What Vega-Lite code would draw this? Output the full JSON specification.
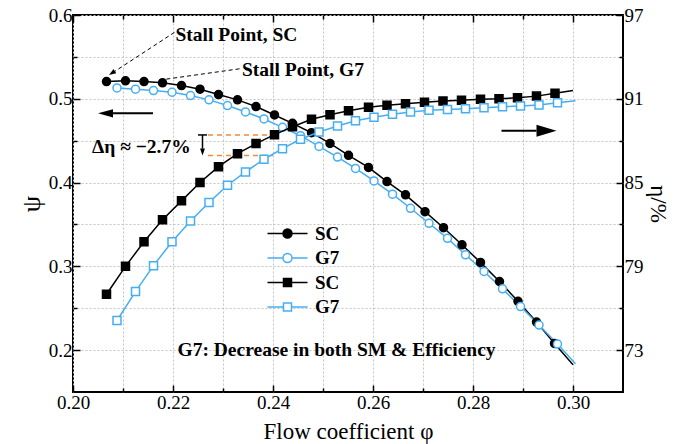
{
  "$schema": "https://vega.github.io/schema/vega-lite/v6.json",
  "width": 550,
  "height": 377,
  "autosize": {"type": "none"},
  "padding": {"left": 73, "top": 15, "right": 68, "bottom": 52},
  "background": "white",
  "config": {
    "font": "Liberation Serif",
    "view": {"stroke": "black", "strokeWidth": 2},
    "axis": {
      "domain": false,
      "labelFlush": false,
      "labelFont": "Liberation Serif",
      "labelFontSize": 19,
      "labelColor": "black",
      "titleFont": "Liberation Serif",
      "titleFontWeight": "normal",
      "titleColor": "black",
      "tickColor": "black",
      "tickWidth": 1.5,
      "gridColor": "#c4c4c4",
      "gridDash": [2, 2],
      "gridWidth": 1
    },
    "text": {"font": "Liberation Serif"}
  },
  "datasets": {
    "curves": [
      {"phi": 0.2067, "y": 0.5206, "series": "SC ψ", "curve": "psi"},
      {"phi": 0.2105, "y": 0.5214, "series": "SC ψ", "curve": "psi"},
      {"phi": 0.2142, "y": 0.5206, "series": "SC ψ", "curve": "psi"},
      {"phi": 0.2179, "y": 0.5190, "series": "SC ψ", "curve": "psi"},
      {"phi": 0.2217, "y": 0.5158, "series": "SC ψ", "curve": "psi"},
      {"phi": 0.2254, "y": 0.5114, "series": "SC ψ", "curve": "psi"},
      {"phi": 0.2291, "y": 0.5050, "series": "SC ψ", "curve": "psi"},
      {"phi": 0.2329, "y": 0.4987, "series": "SC ψ", "curve": "psi"},
      {"phi": 0.2366, "y": 0.4907, "series": "SC ψ", "curve": "psi"},
      {"phi": 0.2403, "y": 0.4807, "series": "SC ψ", "curve": "psi"},
      {"phi": 0.2439, "y": 0.4707, "series": "SC ψ", "curve": "psi"},
      {"phi": 0.2477, "y": 0.4595, "series": "SC ψ", "curve": "psi"},
      {"phi": 0.2514, "y": 0.4467, "series": "SC ψ", "curve": "psi"},
      {"phi": 0.2551, "y": 0.4325, "series": "SC ψ", "curve": "psi"},
      {"phi": 0.2591, "y": 0.4180, "series": "SC ψ", "curve": "psi"},
      {"phi": 0.2628, "y": 0.4012, "series": "SC ψ", "curve": "psi"},
      {"phi": 0.2665, "y": 0.3853, "series": "SC ψ", "curve": "psi"},
      {"phi": 0.2704, "y": 0.3653, "series": "SC ψ", "curve": "psi"},
      {"phi": 0.2741, "y": 0.3461, "series": "SC ψ", "curve": "psi"},
      {"phi": 0.2778, "y": 0.3257, "series": "SC ψ", "curve": "psi"},
      {"phi": 0.2815, "y": 0.3047, "series": "SC ψ", "curve": "psi"},
      {"phi": 0.2853, "y": 0.2819, "series": "SC ψ", "curve": "psi"},
      {"phi": 0.2890, "y": 0.2583, "series": "SC ψ", "curve": "psi"},
      {"phi": 0.2927, "y": 0.2335, "series": "SC ψ", "curve": "psi"},
      {"phi": 0.2963, "y": 0.2080, "series": "SC ψ", "curve": "psi"},
      {"phi": 0.3000, "y": 0.1825, "series": "SC ψ", "curve": "psi", "end": true},
      {"phi": 0.2088, "y": 0.5130, "series": "G7 ψ", "curve": "psi"},
      {"phi": 0.2125, "y": 0.5114, "series": "G7 ψ", "curve": "psi"},
      {"phi": 0.2161, "y": 0.5098, "series": "G7 ψ", "curve": "psi"},
      {"phi": 0.2198, "y": 0.5078, "series": "G7 ψ", "curve": "psi"},
      {"phi": 0.2235, "y": 0.5038, "series": "G7 ψ", "curve": "psi"},
      {"phi": 0.2272, "y": 0.4987, "series": "G7 ψ", "curve": "psi"},
      {"phi": 0.2309, "y": 0.4919, "series": "G7 ψ", "curve": "psi"},
      {"phi": 0.2345, "y": 0.4843, "series": "G7 ψ", "curve": "psi"},
      {"phi": 0.2382, "y": 0.4759, "series": "G7 ψ", "curve": "psi"},
      {"phi": 0.2419, "y": 0.4659, "series": "G7 ψ", "curve": "psi"},
      {"phi": 0.2455, "y": 0.4559, "series": "G7 ψ", "curve": "psi"},
      {"phi": 0.2492, "y": 0.4431, "series": "G7 ψ", "curve": "psi"},
      {"phi": 0.2529, "y": 0.4304, "series": "G7 ψ", "curve": "psi"},
      {"phi": 0.2565, "y": 0.4168, "series": "G7 ψ", "curve": "psi"},
      {"phi": 0.2602, "y": 0.4020, "series": "G7 ψ", "curve": "psi"},
      {"phi": 0.2639, "y": 0.3861, "series": "G7 ψ", "curve": "psi"},
      {"phi": 0.2675, "y": 0.3693, "series": "G7 ψ", "curve": "psi"},
      {"phi": 0.2712, "y": 0.3514, "series": "G7 ψ", "curve": "psi"},
      {"phi": 0.2749, "y": 0.3334, "series": "G7 ψ", "curve": "psi"},
      {"phi": 0.2785, "y": 0.3138, "series": "G7 ψ", "curve": "psi"},
      {"phi": 0.2822, "y": 0.2939, "series": "G7 ψ", "curve": "psi"},
      {"phi": 0.2859, "y": 0.2731, "series": "G7 ψ", "curve": "psi"},
      {"phi": 0.2895, "y": 0.2520, "series": "G7 ψ", "curve": "psi"},
      {"phi": 0.2932, "y": 0.2299, "series": "G7 ψ", "curve": "psi"},
      {"phi": 0.2969, "y": 0.2072, "series": "G7 ψ", "curve": "psi"},
      {"phi": 0.3005, "y": 0.1838, "series": "G7 ψ", "curve": "psi", "end": true},
      {"phi": 0.2067, "y": 77.00, "series": "SC η", "curve": "eta"},
      {"phi": 0.2105, "y": 79.00, "series": "SC η", "curve": "eta"},
      {"phi": 0.2142, "y": 80.76, "series": "SC η", "curve": "eta"},
      {"phi": 0.2179, "y": 82.34, "series": "SC η", "curve": "eta"},
      {"phi": 0.2217, "y": 83.69, "series": "SC η", "curve": "eta"},
      {"phi": 0.2254, "y": 85.00, "series": "SC η", "curve": "eta"},
      {"phi": 0.2291, "y": 86.14, "series": "SC η", "curve": "eta"},
      {"phi": 0.2329, "y": 87.07, "series": "SC η", "curve": "eta"},
      {"phi": 0.2366, "y": 87.79, "series": "SC η", "curve": "eta"},
      {"phi": 0.2403, "y": 88.43, "series": "SC η", "curve": "eta"},
      {"phi": 0.2439, "y": 89.00, "series": "SC η", "curve": "eta"},
      {"phi": 0.2477, "y": 89.53, "series": "SC η", "curve": "eta"},
      {"phi": 0.2514, "y": 89.86, "series": "SC η", "curve": "eta"},
      {"phi": 0.2551, "y": 90.15, "series": "SC η", "curve": "eta"},
      {"phi": 0.2591, "y": 90.39, "series": "SC η", "curve": "eta"},
      {"phi": 0.2628, "y": 90.53, "series": "SC η", "curve": "eta"},
      {"phi": 0.2665, "y": 90.64, "series": "SC η", "curve": "eta"},
      {"phi": 0.2703, "y": 90.76, "series": "SC η", "curve": "eta"},
      {"phi": 0.2740, "y": 90.84, "series": "SC η", "curve": "eta"},
      {"phi": 0.2777, "y": 90.89, "series": "SC η", "curve": "eta"},
      {"phi": 0.2815, "y": 90.96, "series": "SC η", "curve": "eta"},
      {"phi": 0.2852, "y": 91.00, "series": "SC η", "curve": "eta"},
      {"phi": 0.2889, "y": 91.07, "series": "SC η", "curve": "eta"},
      {"phi": 0.2927, "y": 91.19, "series": "SC η", "curve": "eta"},
      {"phi": 0.2964, "y": 91.39, "series": "SC η", "curve": "eta"},
      {"phi": 0.3000, "y": 91.60, "series": "SC η", "curve": "eta", "end": true},
      {"phi": 0.2088, "y": 75.12, "series": "G7 η", "curve": "eta"},
      {"phi": 0.2125, "y": 77.19, "series": "G7 η", "curve": "eta"},
      {"phi": 0.2161, "y": 79.05, "series": "G7 η", "curve": "eta"},
      {"phi": 0.2198, "y": 80.76, "series": "G7 η", "curve": "eta"},
      {"phi": 0.2235, "y": 82.24, "series": "G7 η", "curve": "eta"},
      {"phi": 0.2272, "y": 83.57, "series": "G7 η", "curve": "eta"},
      {"phi": 0.2309, "y": 84.81, "series": "G7 η", "curve": "eta"},
      {"phi": 0.2345, "y": 85.76, "series": "G7 η", "curve": "eta"},
      {"phi": 0.2382, "y": 86.67, "series": "G7 η", "curve": "eta"},
      {"phi": 0.2419, "y": 87.43, "series": "G7 η", "curve": "eta"},
      {"phi": 0.2455, "y": 88.10, "series": "G7 η", "curve": "eta"},
      {"phi": 0.2492, "y": 88.62, "series": "G7 η", "curve": "eta"},
      {"phi": 0.2529, "y": 89.05, "series": "G7 η", "curve": "eta"},
      {"phi": 0.2565, "y": 89.43, "series": "G7 η", "curve": "eta"},
      {"phi": 0.2602, "y": 89.67, "series": "G7 η", "curve": "eta"},
      {"phi": 0.2639, "y": 89.89, "series": "G7 η", "curve": "eta"},
      {"phi": 0.2675, "y": 90.05, "series": "G7 η", "curve": "eta"},
      {"phi": 0.2712, "y": 90.17, "series": "G7 η", "curve": "eta"},
      {"phi": 0.2749, "y": 90.24, "series": "G7 η", "curve": "eta"},
      {"phi": 0.2785, "y": 90.29, "series": "G7 η", "curve": "eta"},
      {"phi": 0.2822, "y": 90.36, "series": "G7 η", "curve": "eta"},
      {"phi": 0.2859, "y": 90.43, "series": "G7 η", "curve": "eta"},
      {"phi": 0.2895, "y": 90.48, "series": "G7 η", "curve": "eta"},
      {"phi": 0.2932, "y": 90.55, "series": "G7 η", "curve": "eta"},
      {"phi": 0.2969, "y": 90.71, "series": "G7 η", "curve": "eta"},
      {"phi": 0.3005, "y": 90.86, "series": "G7 η", "curve": "eta", "end": true}
    ],
    "psiRules": [
      {"what": "stallSC", "phi": 0.2203, "psi": 0.5793, "phi2": 0.2084, "psi2": 0.5329},
      {"what": "stallG7", "phi": 0.2333, "psi": 0.5358, "phi2": 0.2167, "psi2": 0.5218},
      {"what": "leftArrow", "phi": 0.2160, "psi": 0.4827, "phi2": 0.2080, "psi2": 0.4827},
      {"what": "rightArrow", "phi": 0.2857, "psi": 0.4619, "phi2": 0.2927, "psi2": 0.4619}
    ],
    "psiHeads": [
      {"what": "stallSC", "phi": 0.2072, "psi": 0.5284},
      {"what": "leftArrow", "phi": 0.2050, "psi": 0.4827},
      {"what": "rightArrow", "phi": 0.2967, "psi": 0.4619}
    ],
    "etaRules": [
      {"what": "etaSC", "phi": 0.2270, "eta": 88.41, "phi2": 0.2400, "eta2": 88.41},
      {"what": "etaG7", "phi": 0.2270, "eta": 86.93, "phi2": 0.2400, "eta2": 86.93},
      {"what": "drop", "phi": 0.2259, "eta": 88.41, "phi2": 0.2259, "eta2": 87.43},
      {"what": "cap", "phi": 0.2250, "eta": 88.41, "phi2": 0.2268, "eta2": 88.41}
    ],
    "etaHeads": [
      {"what": "drop", "phi": 0.2259, "eta": 86.93}
    ],
    "notes": [
      {"text": "Stall Point, SC", "phi": 0.2205, "psi": 0.5757},
      {"text": "Stall Point, G7", "phi": 0.2338, "psi": 0.5338},
      {"text": "Δη ≈ −2.7%", "phi": 0.2038, "psi": 0.4420},
      {"text": "G7: Decrease in both SM & Efficiency", "phi": 0.2209, "psi": 0.1996}
    ]
  },
  "layer": [
    {
      "encoding": {
        "x": {
          "field": "phi", "type": "quantitative",
          "scale": {"domain": [0.2, 0.31], "nice": false, "zero": false},
          "axis": {
            "orient": "bottom",
            "values": [0.2, 0.21, 0.22, 0.23, 0.24, 0.25, 0.26, 0.27, 0.28, 0.29, 0.3],
            "labelExpr": "round(datum.value*100) % 2 == 0 ? format(datum.value, '.2f') : ''",
            "tickSize": {"condition": {"test": "round(datum.value*100) % 2 == 0", "value": -7}, "value": -4},
            "grid": true,
            "labelPadding": 8,
            "title": "Flow coefficient φ",
            "titleFontSize": 23,
            "titlePadding": 8
          }
        }
      },
      "layer": [
        {
          "data": {"name": "curves"},
          "transform": [{"filter": "datum.curve == 'psi'"}],
          "mark": {"type": "line", "strokeWidth": 1.5},
          "encoding": {
            "y": {
              "field": "y", "type": "quantitative",
              "scale": {"domain": [0.15, 0.6], "nice": false, "zero": false},
              "axis": {
                "orient": "left",
                "values": [0.2, 0.25, 0.3, 0.35, 0.4, 0.45, 0.5, 0.55, 0.6],
                "labelExpr": "round(datum.value*100) % 10 == 0 ? format(datum.value, '.1f') : ''",
                "tickSize": {"condition": {"test": "round(datum.value*100) % 10 == 0", "value": -7}, "value": -4},
                "grid": true,
                "labelPadding": 8,
                "title": "ψ",
                "titleFontSize": 26,
                "titlePadding": 4
              }
            },
            "stroke": {
              "field": "series", "type": "nominal",
              "scale": {"domain": ["SC ψ", "G7 ψ", "SC η", "G7 η"], "range": ["#000000", "#45aef2", "#000000", "#45aef2"]}
            }
          }
        },
        {
          "data": {"name": "curves"},
          "transform": [{"filter": "datum.curve == 'psi' && !datum.end"}],
          "mark": {"type": "point", "shape": "circle", "size": 64, "strokeWidth": 1.5, "opacity": 1},
          "encoding": {
            "y": {"field": "y", "type": "quantitative", "scale": {"domain": [0.15, 0.6], "nice": false, "zero": false}},
            "stroke": {
              "field": "series", "type": "nominal",
              "scale": {"domain": ["SC ψ", "G7 ψ", "SC η", "G7 η"], "range": ["#000000", "#45aef2", "#000000", "#45aef2"]}
            },
            "fill": {
              "field": "series", "type": "nominal",
              "scale": {"domain": ["SC ψ", "G7 ψ", "SC η", "G7 η"], "range": ["#000000", "#ffffff", "#000000", "#ffffff"]}
            }
          }
        },
        {
          "data": {"name": "curves"},
          "transform": [{"filter": "false"}],
          "mark": {"type": "point", "size": 64, "strokeWidth": 1.5, "opacity": 1},
          "encoding": {
            "y": {"field": "y", "type": "quantitative", "scale": {"domain": [0.15, 0.6], "nice": false, "zero": false}},
            "shape": {
              "field": "series", "type": "nominal",
              "scale": {
                "domain": ["SC ψ", "G7 ψ", "SC η", "G7 η"],
                "range": [
                  "M-5,0H-1.125M1.125,0H5M-1.125,0A1.125,1.125,0,1,1,1.125,0A1.125,1.125,0,1,1,-1.125,0Z",
                  "M-5,0H-1.125M1.125,0H5M-1.125,0A1.125,1.125,0,1,1,1.125,0A1.125,1.125,0,1,1,-1.125,0Z",
                  "M-5,0H-1M1,0H5M-1,-1H1V1H-1Z",
                  "M-5,0H-1M1,0H5M-1,-1H1V1H-1Z"
                ]
              },
              "legend": {
                "orient": "none",
                "legendX": 205,
                "legendY": 209,
                "title": null,
                "padding": 0,
                "labelFont": "Liberation Serif",
                "labelFontSize": 19,
                "labelFontWeight": "bold",
                "labelColor": "black",
                "labelOffset": 18,
                "symbolSize": 64,
                "symbolStrokeWidth": 1.5,
                "rowPadding": 4.5,
                "labelExpr": "split(datum.label, ' ')[0]"
              }
            },
            "stroke": {
              "field": "series", "type": "nominal",
              "scale": {"domain": ["SC ψ", "G7 ψ", "SC η", "G7 η"], "range": ["#000000", "#45aef2", "#000000", "#45aef2"]}
            },
            "fill": {
              "field": "series", "type": "nominal",
              "scale": {"domain": ["SC ψ", "G7 ψ", "SC η", "G7 η"], "range": ["#000000", "#ffffff", "#000000", "#ffffff"]}
            }
          }
        },
        {
          "data": {"name": "psiRules"},
          "transform": [{"filter": {"field": "what", "oneOf": ["stallSC", "stallG7"]}}],
          "mark": {"type": "rule", "color": "black", "strokeWidth": 1, "strokeDash": [4, 3]},
          "encoding": {
            "y": {"field": "psi", "type": "quantitative", "scale": {"domain": [0.15, 0.6], "nice": false, "zero": false}},
            "x2": {"field": "phi2"},
            "y2": {"field": "psi2"}
          }
        },
        {
          "data": {"name": "psiRules"},
          "transform": [{"filter": {"field": "what", "oneOf": ["leftArrow", "rightArrow"]}}],
          "mark": {"type": "rule", "color": "black", "strokeWidth": 2},
          "encoding": {
            "y": {"field": "psi", "type": "quantitative", "scale": {"domain": [0.15, 0.6], "nice": false, "zero": false}},
            "x2": {"field": "phi2"},
            "y2": {"field": "psi2"}
          }
        },
        {
          "data": {"name": "psiHeads"},
          "transform": [{"filter": "datum.what == 'leftArrow'"}],
          "mark": {"type": "point", "shape": "M0,0L2,-0.55L2,0.55Z", "size": 225, "filled": true, "color": "black", "opacity": 1},
          "encoding": {
            "y": {"field": "psi", "type": "quantitative", "scale": {"domain": [0.15, 0.6], "nice": false, "zero": false}}
          }
        },
        {
          "data": {"name": "psiHeads"},
          "transform": [{"filter": "datum.what == 'rightArrow'"}],
          "mark": {"type": "point", "shape": "M0,0L-2,-0.6L-2,0.6Z", "size": 400, "filled": true, "color": "black", "opacity": 1},
          "encoding": {
            "y": {"field": "psi", "type": "quantitative", "scale": {"domain": [0.15, 0.6], "nice": false, "zero": false}}
          }
        },
        {
          "data": {"name": "psiHeads"},
          "transform": [{"filter": "datum.what == 'stallSC'"}],
          "mark": {"type": "point", "shape": "M0,0L-2,-0.7L-2,0.7Z", "size": 49, "angle": 147, "filled": true, "color": "black", "opacity": 1},
          "encoding": {
            "y": {"field": "psi", "type": "quantitative", "scale": {"domain": [0.15, 0.6], "nice": false, "zero": false}}
          }
        },
        {
          "data": {"name": "notes"},
          "mark": {"type": "text", "align": "left", "baseline": "middle", "font": "Liberation Serif", "fontSize": 19.5, "fontWeight": "bold", "color": "black"},
          "encoding": {
            "y": {"field": "psi", "type": "quantitative", "scale": {"domain": [0.15, 0.6], "nice": false, "zero": false}},
            "text": {"field": "text"}
          }
        }
      ]
    },
    {
      "encoding": {
        "x": {
          "field": "phi", "type": "quantitative",
          "scale": {"domain": [0.2, 0.31], "nice": false, "zero": false},
          "axis": {
            "orient": "top",
            "values": [0.2, 0.21, 0.22, 0.23, 0.24, 0.25, 0.26, 0.27, 0.28, 0.29, 0.3],
            "labels": false,
            "tickSize": {"condition": {"test": "round(datum.value*100) % 2 == 0", "value": -7}, "value": -4},
            "grid": false,
            "title": null
          }
        }
      },
      "layer": [
        {
          "data": {"name": "etaRules"},
          "transform": [{"filter": {"field": "what", "oneOf": ["etaSC", "etaG7"]}}],
          "mark": {"type": "rule", "color": "#f08a3c", "strokeWidth": 1.5, "strokeDash": [5, 4]},
          "encoding": {
            "y": {
              "field": "eta", "type": "quantitative",
              "scale": {"domain": [70, 97], "nice": false, "zero": false},
              "axis": {
                "orient": "right",
                "values": [73, 76, 79, 82, 85, 88, 91, 94, 97],
                "labelExpr": "(datum.value - 73) % 6 == 0 ? format(datum.value, 'd') : ''",
                "tickSize": {"condition": {"test": "(datum.value - 73) % 6 == 0", "value": -7}, "value": -4},
                "grid": false,
                "labelPadding": 8,
                "title": "η/%",
                "titleFontSize": 23,
                "titlePadding": 2
              }
            },
            "x2": {"field": "phi2"},
            "y2": {"field": "eta2"}
          }
        },
        {
          "data": {"name": "curves"},
          "transform": [{"filter": "datum.curve == 'eta'"}],
          "mark": {"type": "line", "strokeWidth": 1.5},
          "encoding": {
            "y": {"field": "y", "type": "quantitative", "scale": {"domain": [70, 97], "nice": false, "zero": false}},
            "stroke": {
              "field": "series", "type": "nominal",
              "scale": {"domain": ["SC ψ", "G7 ψ", "SC η", "G7 η"], "range": ["#000000", "#45aef2", "#000000", "#45aef2"]}
            }
          }
        },
        {
          "data": {"name": "curves"},
          "transform": [{"filter": "datum.curve == 'eta' && !datum.end"}],
          "mark": {"type": "point", "shape": "square", "size": 64, "strokeWidth": 1.5, "opacity": 1},
          "encoding": {
            "y": {"field": "y", "type": "quantitative", "scale": {"domain": [70, 97], "nice": false, "zero": false}},
            "stroke": {
              "field": "series", "type": "nominal",
              "scale": {"domain": ["SC ψ", "G7 ψ", "SC η", "G7 η"], "range": ["#000000", "#45aef2", "#000000", "#45aef2"]}
            },
            "fill": {
              "field": "series", "type": "nominal",
              "scale": {"domain": ["SC ψ", "G7 ψ", "SC η", "G7 η"], "range": ["#000000", "#ffffff", "#000000", "#ffffff"]}
            }
          }
        },
        {
          "data": {"name": "etaRules"},
          "transform": [{"filter": {"field": "what", "oneOf": ["drop", "cap"]}}],
          "mark": {"type": "rule", "color": "black", "strokeWidth": 1.5},
          "encoding": {
            "y": {"field": "eta", "type": "quantitative", "scale": {"domain": [70, 97], "nice": false, "zero": false}},
            "x2": {"field": "phi2"},
            "y2": {"field": "eta2"}
          }
        },
        {
          "data": {"name": "etaHeads"},
          "mark": {"type": "point", "shape": "M0,0L-0.7,-2L0.7,-2Z", "size": 49, "filled": true, "color": "black", "opacity": 1},
          "encoding": {
            "y": {"field": "eta", "type": "quantitative", "scale": {"domain": [70, 97], "nice": false, "zero": false}}
          }
        }
      ]
    }
  ],
  "resolve": {"scale": {"y": "independent"}, "axis": {"x": "independent", "y": "independent"}}
}
